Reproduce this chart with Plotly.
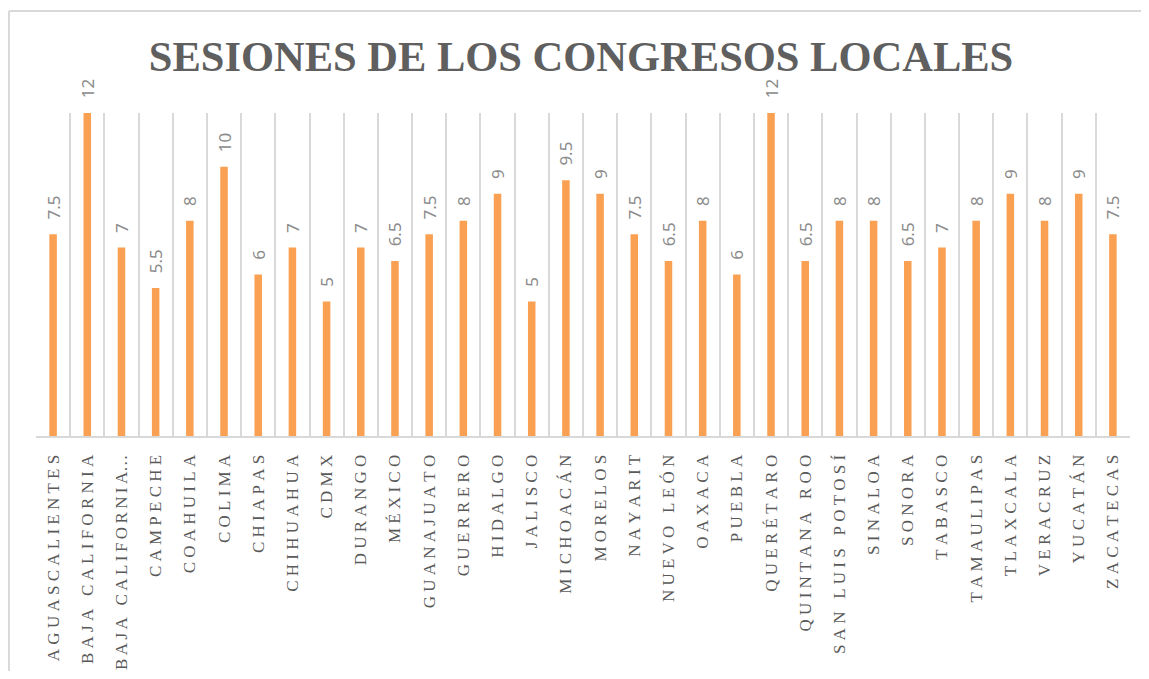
import plotly.graph_objects as go

states = ["AGUASCALIENTES", "BAJA CALIFORNIA", "BAJA CALIFORNIA…", "CAMPECHE", "COAHUILA",
          "COLIMA", "CHIAPAS", "CHIHUAHUA", "CDMX", "DURANGO", "MÉXICO", "GUANAJUATO",
          "GUERRERO", "HIDALGO", "JALISCO", "MICHOACÁN", "MORELOS", "NAYARIT", "NUEVO LEÓN",
          "OAXACA", "PUEBLA", "QUERÉTARO", "QUINTANA ROO", "SAN LUIS POTOSÍ", "SINALOA",
          "SONORA", "TABASCO", "TAMAULIPAS", "TLAXCALA", "VERACRUZ", "YUCATÁN", "ZACATECAS"]
sessions = [7.5, 12, 7, 5.5, 8, 10, 6, 7, 5, 7, 6.5, 7.5, 8, 9, 5, 9.5, 9, 7.5, 6.5, 8, 6,
            12, 6.5, 8, 8, 6.5, 7, 8, 9, 8, 9, 7.5]
title_text = "SESIONES DE LOS CONGRESOS LOCALES"


def spaced(s):
    # letter-spacing imitation; truncated labels get slightly tighter spacing
    gap = "\u2009" if s.endswith("…") else "\u00a0"
    out = []
    for ch in s:
        if ch == " ":
            out.append("\u00a0\u00a0")
        elif ch == "…":
            out.append(ch)
        else:
            out.append(ch + gap)
    txt = "".join(out)
    if not s.endswith("…"):
        txt = txt.rstrip(gap)
    else:
        txt = txt.replace(gap + "…", "…")
    return txt


def fmt(v):
    return str(int(v)) if float(v).is_integer() else str(v)


# page body has an 8px offset in the browser
OFF = 8
W, H = 1149 - 2 * OFF, 679 - 2 * OFF
L = 36 - OFF
T = 113 - OFF
R = W - (1130 - OFF)
B = H - (436 - OFF)

fig = go.Figure()
fig.add_trace(go.Bar(
    x=[spaced(s) for s in states],
    y=sessions,
    width=0.22,
    marker=dict(color="#F9A052", line=dict(width=0)),
    text=["\u00a0\u00a0\u2009" + fmt(v) for v in sessions],
    textposition="outside",
    textangle=-90,
    constraintext="none",
    textfont=dict(family="Noto Sans", size=17, color="#8C8C8C"),
    cliponaxis=False,
    hoverinfo="skip",
))

pw = W - L - R
ph = H - T - B


def px_x(p):
    return (p - OFF - L) / pw


def px_y(p):
    return (H - B - (p - OFF)) / ph


fig.update_layout(
    width=W, height=H,
    margin=dict(l=L, r=R, t=T, b=B, autoexpand=False),
    paper_bgcolor="white", plot_bgcolor="white",
    showlegend=False,
    title=dict(text="<b>" + title_text + "</b>",
               x=(581 - OFF) / W, xanchor="center", y=1 - (56 - OFF) / H, yanchor="middle",
               font=dict(family="Liberation Serif", size=42.5, color="#5F5F5F")),
    xaxis=dict(type="category", tickson="boundaries", showgrid=True, gridcolor="#D9D9D9",
               gridwidth=2, showline=True, linecolor="#D9D9D9", linewidth=2,
               ticks="", tickangle=-90, ticklabelstandoff=10, automargin=False,
               tickfont=dict(family="Liberation Serif", size=17, color="#595959"),
               fixedrange=True),
    yaxis=dict(range=[0, 12], visible=False, showgrid=False, zeroline=False, fixedrange=True,
               automargin=False),
    bargap=0.5,
    shapes=[
        dict(type="line", xref="paper", yref="paper", x0=px_x(9), x1=px_x(1200),
             y0=px_y(11), y1=px_y(11), line=dict(color="#D9D9D9", width=2)),
        dict(type="line", xref="paper", yref="paper", x0=px_x(9), x1=px_x(9),
             y0=px_y(11), y1=px_y(700), line=dict(color="#D9D9D9", width=2)),
    ],
)

fig.write_html("out.html")
